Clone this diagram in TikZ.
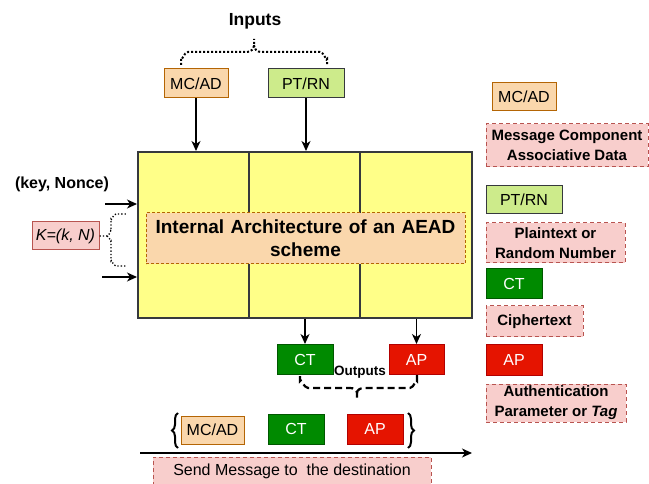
\documentclass[tikz,border=0pt]{standalone}
\usepackage{fontspec}
\setmainfont{Liberation Sans}
\usetikzlibrary{arrows.meta,decorations.pathreplacing}
\definecolor{peachF}{HTML}{FAD7AC}
\definecolor{peachD}{HTML}{B46504}
\definecolor{greenF}{HTML}{CDEB8B}
\definecolor{darkD}{HTML}{36393D}
\definecolor{ctF}{HTML}{008A00}
\definecolor{ctD}{HTML}{005700}
\definecolor{apF}{HTML}{E51400}
\definecolor{apD}{HTML}{B20000}
\definecolor{pinkF}{HTML}{F8CECC}
\definecolor{pinkD}{HTML}{B85450}
\definecolor{yelF}{HTML}{FFFF88}
\newcommand\fsR{\fontsize{16}{19}\selectfont}
\newcommand\fsL{\fontsize{15}{20}\selectfont\bfseries}
\tikzset{
  box/.style={draw, line width=1pt, inner sep=0pt, minimum height=29pt, font=\fsR},
  mcbox/.style={box, fill=peachF, draw=peachD},
  ptbox/.style={box, fill=greenF, draw=darkD},
  ctbox/.style={box, fill=ctF, draw=ctD, text=white, minimum height=30pt},
  apbox/.style={box, fill=apF, draw=apD, text=white, minimum height=30pt},
  pinkdash/.style={draw=pinkD, fill=pinkF, line width=1pt, dash pattern=on 4pt off 3pt, inner sep=0pt, align=center},
  legend/.style={pinkdash, font=\fsL},
  col/.style={draw=darkD, fill=yelF, line width=2pt, minimum height=166pt, inner sep=0pt},
  arr/.style={-{Stealth[length=10pt,width=9pt,inset=3pt]}, line width=1.2pt},
}
\begin{document}
\begin{tikzpicture}[x=1pt,y=-1pt]
\useasboundingbox (0,0) rectangle (649,484);

% inputs
\node[font=\fontsize{17.5}{20}\selectfont\bfseries] (inputs) at (255,21) {Inputs};
\node[mcbox, minimum width=64pt] (mcad) at (196,83.5) {MC/AD};
\node[ptbox, minimum width=76pt] (ptrn) at (306,83.5) {PT/RN};
\draw[dotted, line width=2pt] (181,65) -- (181,59) to[out=-90,in=180] (188,52) -- (247,52) to[out=0,in=-90] (254,45) -- (254,39);
\draw[dotted, line width=2pt] (254,45) to[out=-90,in=180] (261,52) -- (320,52) to[out=0,in=-90] (327,59) -- (327,66);

% main block
\node[col, minimum width=111pt] (c1) at (193.5,235) {};
\node[col, minimum width=111pt] (c2) at (304.5,235) {};
\node[col, minimum width=112pt] (c3) at (416,235) {};
\node[draw=peachD, fill=peachF, line width=1pt, dash pattern=on 3pt off 2pt, minimum width=319pt, minimum height=51pt, inner sep=0pt, text width=315pt, align=center, font=\fontsize{19}{23}\selectfont\bfseries] (arch) at (305.5,238.5) {Internal Architecture of an AEAD\\scheme};

\draw[arr] (mcad) -- (mcad.south |- c1.north);
\draw[arr] (ptrn) -- (ptrn.south |- c2.north);

% key / nonce
\node[font=\fsR\bfseries] (keyn) at (62,184) {(key, Nonce)};
\coordinate (ka) at (105,204);
\coordinate (kb) at (102,277);
\draw[arr] (ka) -- (ka -| c1.west);
\draw[arr] (kb) -- (kb -| c1.west);
\node[box, fill=pinkF, draw=pinkD, minimum width=67pt, minimum height=28pt] (K) at (65.5,236) {\textit{K=(k, N)}};
\draw[dotted, line width=1.3pt] (K.east) -- (107,236) to[out=0,in=90] (111,231) -- (111,219) to[out=-90,in=180] (116,214) -- (126,214);
\draw[dotted, line width=1.3pt] (107,236) to[out=0,in=-90] (111,241) -- (111,261) to[out=90,in=180] (116,266) -- (126,266);

% outputs
\node[ctbox, minimum width=56pt] (ct) at (305,359.5) {CT};
\node[apbox, minimum width=55pt] (ap) at (416.5,359.5) {AP};
\draw[arr] (ct |- c2.south) -- (ct);
\draw[arr] (ap |- c3.south) -- (ap);
\node[font=\fontsize{13.5}{16}\selectfont\bfseries] (outputs) at (360,372) {Outputs};
\draw[line width=2.2pt, dash pattern=on 7pt off 4pt] (300,376) -- (300,381) to[out=90,in=180] (308,388) -- (350,388) to[out=0,in=90] (357,393) -- (357,398);
\draw[line width=2.2pt, dash pattern=on 7pt off 4pt] (357,393) to[out=90,in=180] (364,388) -- (410,388) to[out=0,in=90] (417,381) -- (417,375);

% bottom message
\node[mcbox, minimum width=63pt, minimum height=28pt] (mcad2) at (212.5,430) {MC/AD};
\node[ctbox, minimum width=56pt] (ct2) at (296,429) {CT};
\node[apbox, minimum width=56pt] (ap2) at (375,429) {AP};
\draw[line width=2pt, decorate, decoration={brace, amplitude=6pt}] (178,448) -- (178,413);
\draw[line width=2pt, decorate, decoration={brace, amplitude=6pt}] (408,413) -- (408,448);
\coordinate (s0) at (140,453);
\coordinate (s1) at (472,453);
\draw[arr] (s0) -- (s1);
\node[pinkdash, font=\fsR, minimum width=278pt, minimum height=28pt] (send) at (292,471) {Send Message to\ \ the destination};

% legend
\node[mcbox, minimum width=64pt, minimum height=28pt] (lmc) at (524,97) {MC/AD};
\node[legend, minimum width=162pt, minimum height=43pt] (lmct) at (567,145.5) {Message Component\\Associative Data};
\node[ptbox, minimum width=76pt, minimum height=28pt] (lpt) at (524,200) {PT/RN};
\node[legend, minimum width=139pt, minimum height=40pt] (lptt) at (555.5,243) {Plaintext or\\Random Number};
\node[ctbox, minimum width=56pt] (lct) at (514,284) {CT};
\node[legend, minimum width=97pt, minimum height=31pt] (lctt) at (534.5,321.5) {Ciphertext};
\node[apbox, minimum width=56pt] (lap) at (514,360) {AP};
\node[legend, minimum width=140pt, minimum height=38pt] (lapt) at (556,403) {Authentication\\Parameter or \textit{Tag}};
\end{tikzpicture}
\end{document}
